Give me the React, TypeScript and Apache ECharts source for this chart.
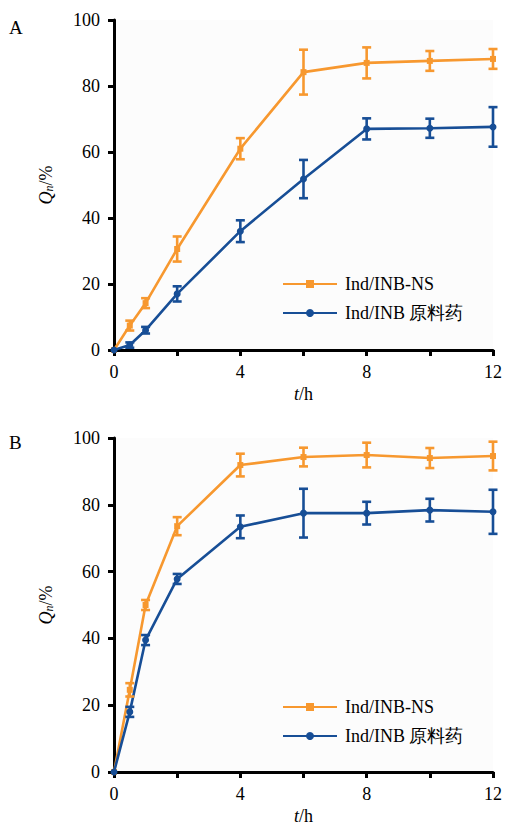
import React, { useEffect, useRef } from "react";
import * as echarts from "echarts";

const times = [0, 0.5, 1, 2, 4, 6, 8, 10, 12];
const seriesNames = ["Ind/INB-NS", "Ind/INB 原料药"];

const aNs = [0, 7.4, 14.2, 30.6, 61, 84.2, 87, 87.6, 88.2];
const aNsSd = [0, 1.5, 1.5, 3.8, 3.2, 6.8, 4.7, 3, 3];
const aRaw = [0, 1.5, 6, 17, 36, 51.8, 67, 67.2, 67.6];
const aRawSd = [0, 0.8, 1, 2.3, 3.3, 5.8, 3.2, 2.9, 6];

const bNs = [0, 24.6, 50, 73.6, 91.9, 94.3, 94.9, 94, 94.6];
const bNsSd = [0, 2, 1.5, 2.7, 3.4, 2.8, 3.7, 3, 4.3];
const bRaw = [0, 18, 39.5, 57.8, 73.4, 77.5, 77.5, 78.4, 77.9];
const bRawSd = [0, 1.5, 1.5, 1.5, 3.4, 7.3, 3.4, 3.4, 6.6];

const xTicks = [0, 4, 8, 12];

const ORANGE = "#F7982F";
const BLUE = "#174E96";
const FONT = "Liberation Serif";
const LEGEND_FONT = "Liberation Serif";
const FS = 18;

function lineSeries(name: string, vals: number[], color: string, symbol: string, gi: number) {
  return {
    type: "line",
    name,
    xAxisIndex: gi,
    yAxisIndex: gi,
    data: times.map((t, i) => [t, vals[i]]),
    symbol,
    symbolSize: symbol === "rect" ? 6 : 7,
    showSymbol: true,
    lineStyle: { color, width: 2.6 },
    itemStyle: { color },
    z: 3,
  };
}

function errSeries(vals: number[], sds: number[], color: string, gi: number) {
  const data = times
    .map((t, i) => [t, vals[i] - sds[i], vals[i] + sds[i]])
    .filter((_, i) => sds[i] > 0);
  return {
    type: "custom",
    xAxisIndex: gi,
    yAxisIndex: gi,
    data,
    z: 4,
    silent: true,
    renderItem: (params: any, api: any) => {
      const x = api.value(0);
      const lo = api.value(1);
      const hi = api.value(2);
      const top = api.coord([x, hi]);
      const bot = api.coord([x, lo]);
      const hw = 4.5;
      const style = { stroke: color, lineWidth: 2.6 };
      return {
        type: "group",
        children: [
          { type: "line", shape: { x1: top[0], y1: top[1], x2: bot[0], y2: bot[1] }, style },
          { type: "line", shape: { x1: top[0] - hw, y1: top[1], x2: top[0] + hw, y2: top[1] }, style },
          { type: "line", shape: { x1: bot[0] - hw, y1: bot[1], x2: bot[0] + hw, y2: bot[1] }, style },
        ],
      };
    },
  };
}

function xAxis(gi: number) {
  return {
    type: "value",
    gridIndex: gi,
    min: 0,
    max: 12,
    interval: 2,
    name: "{t|t}{h|/h}",
    nameLocation: "middle",
    nameGap: 35,
    nameTextStyle: {
      fontFamily: FONT,
      rich: {
        t: { fontFamily: FONT, fontSize: FS, fontStyle: "italic", color: "#000" },
        h: { fontFamily: FONT, fontSize: FS, color: "#000" },
      },
    },
    axisLine: { show: true, onZero: false, lineStyle: { color: "#000", width: 3 } },
    axisTick: { show: true, length: 6, lineStyle: { color: "#000", width: 3 } },
    axisLabel: {
      color: "#000",
      fontFamily: FONT,
      fontSize: FS,
      margin: 13,
      formatter: (v: number) => (xTicks.indexOf(v) >= 0 ? String(v) : ""),
    },
    splitLine: { show: false },
  };
}

function yAxis(gi: number) {
  return {
    type: "value",
    gridIndex: gi,
    min: 0,
    max: 100,
    interval: 20,
    name: "{q|Q}{n|n}{p|/%}",
    nameLocation: "middle",
    nameRotate: 90,
    nameGap: 59,
    nameTextStyle: {
      fontFamily: FONT,
      rich: {
        q: { fontFamily: FONT, fontSize: FS, fontStyle: "italic", color: "#000" },
        n: { fontFamily: FONT, fontSize: 12, fontStyle: "italic", color: "#000", verticalAlign: "bottom", padding: [7, 0, 0, 0] },
        p: { fontFamily: FONT, fontSize: FS, color: "#000" },
      },
    },
    axisLine: { show: true, onZero: false, lineStyle: { color: "#000", width: 3 } },
    axisTick: { show: true, length: 6, lineStyle: { color: "#000", width: 3 } },
    axisLabel: { color: "#000", fontFamily: FONT, fontSize: FS, margin: 14 },
    splitLine: { show: false },
  };
}

function legend(top: number) {
  return {
    orient: "vertical",
    left: 277,
    top,
    itemWidth: 54,
    itemHeight: 10,
    itemGap: 11,
    selectedMode: false,
    data: seriesNames,
    textStyle: { fontFamily: LEGEND_FONT, fontSize: FS, lineHeight: 18, color: "#000", padding: [0, 0, 0, 3] },
  };
}

export default function App() {
  const ref = useRef<HTMLDivElement>(null);
  useEffect(() => {
    if (!ref.current) return;
    const chart = echarts.init(ref.current, undefined, { renderer: "svg" });
    chart.setOption({
      animation: false,
      backgroundColor: "#fff",
      textStyle: { fontFamily: FONT },
      grid: [
        { left: 114, top: 20, width: 381, height: 330, show: true, backgroundColor: "#fcfcfc", borderWidth: 0 },
        { left: 114, top: 438, width: 381, height: 334, show: true, backgroundColor: "#fcfcfc", borderWidth: 0 },
      ],
      xAxis: [xAxis(0), xAxis(1)],
      yAxis: [yAxis(0), yAxis(1)],
      legend: [legend(270), legend(693)],
      graphic: [
        { type: "text", left: 9, top: 18, style: { text: "A", font: `19px ${FONT}`, fill: "#000" } },
        { type: "text", left: 9, top: 433, style: { text: "B", font: `19px ${FONT}`, fill: "#000" } },
      ],
      series: [
        lineSeries(seriesNames[0], aNs, ORANGE, "rect", 0),
        lineSeries(seriesNames[1], aRaw, BLUE, "circle", 0),
        errSeries(aNs, aNsSd, ORANGE, 0),
        errSeries(aRaw, aRawSd, BLUE, 0),
        lineSeries(seriesNames[0], bNs, ORANGE, "rect", 1),
        lineSeries(seriesNames[1], bRaw, BLUE, "circle", 1),
        errSeries(bNs, bNsSd, ORANGE, 1),
        errSeries(bRaw, bRawSd, BLUE, 1),
      ],
    });
    return () => chart.dispose();
  }, []);
  return (
    <div
      ref={ref}
      style={{ position: "fixed", left: 0, top: 0, width: 505, height: 829, background: "#fff" }}
    />
  );
}
